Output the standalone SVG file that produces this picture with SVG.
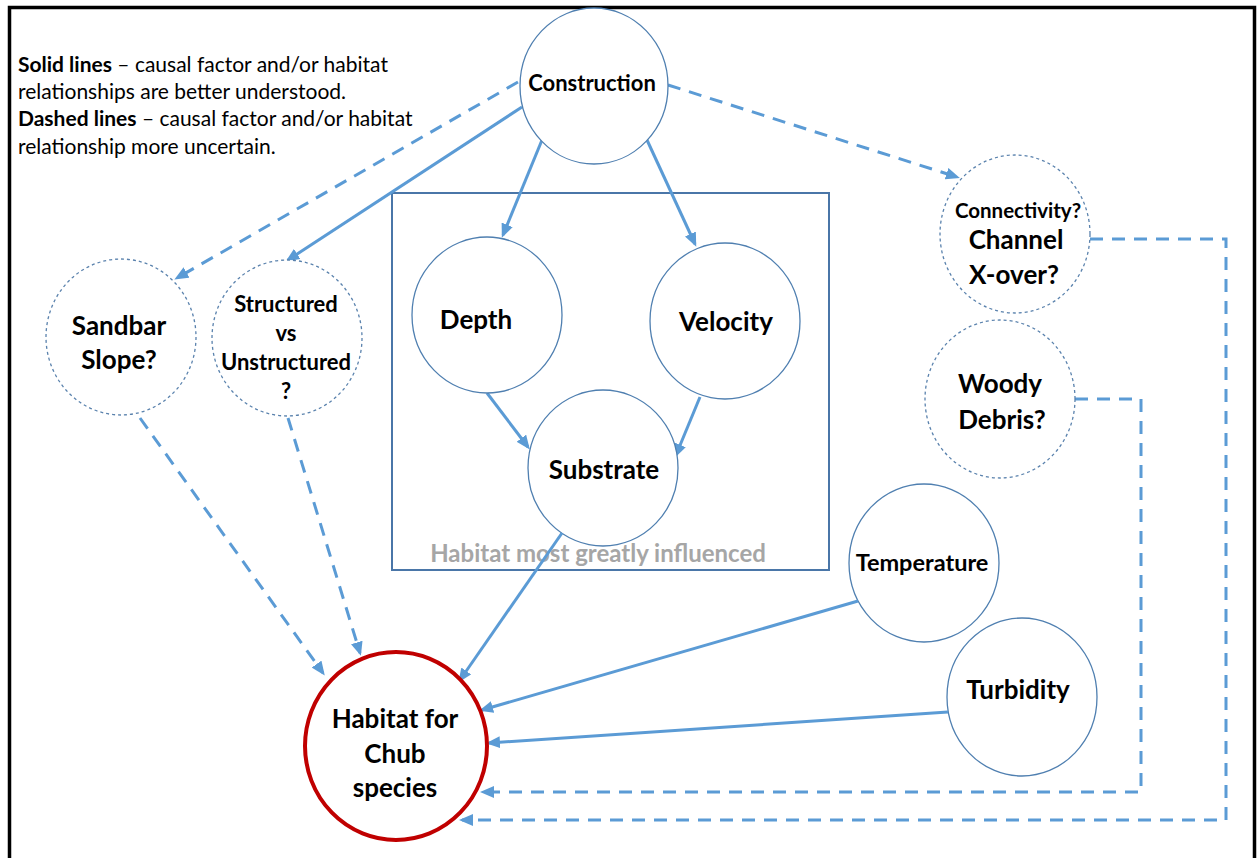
<svg xmlns="http://www.w3.org/2000/svg" width="1258" height="858" viewBox="0 0 1258 858">
<style>
.node{fill:#fff;stroke:#4f7fb0;stroke-width:1.3}
.dnode{fill:#fff;stroke:#5a82ad;stroke-width:1.3;stroke-dasharray:3 3}
.lbl{font-family:Lato,"Liberation Sans",sans-serif;font-weight:bold;fill:#000;text-anchor:middle}
.big{font-size:26px}
.leg{font-family:Lato,"Liberation Sans",sans-serif;font-size:21px;fill:#000}
.solid{fill:none;stroke:#5b9bd5;stroke-width:3;marker-end:url(#ah)}
.dash{fill:none;stroke:#5b9bd5;stroke-width:3;stroke-dasharray:13 9;marker-end:url(#ah)}
</style>
<defs>
<marker id="ah" markerUnits="userSpaceOnUse" markerWidth="14" markerHeight="12" refX="11" refY="6" orient="auto">
<path d="M0,0 L14,6 L0,12 z" fill="#5b9bd5"/>
</marker>
</defs>
<rect x="0" y="0" width="1258" height="858" fill="#fff"/>
<rect x="9.5" y="7.5" width="1245" height="870" fill="none" stroke="#000" stroke-width="3.5"/>

<g id="legend">
<text class="leg" x="18" y="72"><tspan font-weight="bold">Solid lines</tspan> – causal factor and/or habitat</text>
<text class="leg" x="18" y="99">relationships are better understood.</text>
<text class="leg" x="18" y="126"><tspan font-weight="bold">Dashed lines</tspan> – causal factor and/or habitat</text>
<text class="leg" x="18" y="154">relationship more uncertain.</text>
</g>

<g id="habitat-box">
<rect x="392" y="193" width="437" height="377" fill="none" stroke="#4a76a8" stroke-width="2"/>
<text x="598" y="562" font-family="Lato,'Liberation Sans',sans-serif" font-weight="bold" font-size="24" fill="#a6a6a6" text-anchor="middle">Habitat most greatly influenced</text>
</g>

<g id="connectors">
<path class="solid" d="M542,140 L503,235"/>
<path class="solid" d="M647,140 L695,244"/>
<path class="solid" d="M487,393 L528,447"/>
<path class="solid" d="M700,397 L676,455"/>
<path class="solid" d="M522,107 L288,260"/>
<path class="dash" d="M518,82 L177,278"/>
<path class="dash" d="M668,85 L957,177"/>
<path class="dash" d="M140,418 L323,673"/>
<path class="dash" d="M288,418 L360,653"/>
<path class="dash" d="M1090,239 L1226,239 L1226,820 L462,820"/>
<path class="dash" d="M1075,399 L1141,399 L1141,792 L483,792"/>
</g>

<g id="construction">
<ellipse class="node" cx="594" cy="86" rx="74" ry="78"/>
<text class="lbl" x="592" y="91" font-size="22">Construction</text>
</g>
<g id="depth">
<ellipse class="node" cx="487" cy="315" rx="75" ry="78"/>
<text class="lbl big" x="476" y="329">Depth</text>
</g>
<g id="velocity">
<ellipse class="node" cx="725" cy="321" rx="75" ry="78"/>
<text class="lbl big" x="726" y="331">Velocity</text>
</g>
<g id="substrate">
<ellipse class="node" cx="603" cy="468" rx="75" ry="78"/>
<text class="lbl big" x="604" y="479">Substrate</text>
</g>
<g id="sandbar">
<ellipse class="dnode" cx="121" cy="337" rx="75" ry="78"/>
<text class="lbl big" x="119" y="335">Sandbar</text>
<text class="lbl big" x="119" y="369">Slope?</text>
</g>
<g id="structured">
<ellipse class="dnode" cx="287" cy="338" rx="75" ry="78"/>
<text class="lbl" x="286" y="312" font-size="22">Structured</text>
<text class="lbl" x="286" y="341" font-size="22">vs</text>
<text class="lbl" x="286" y="370" font-size="22">Unstructured</text>
<text class="lbl" x="286" y="399" font-size="22">?</text>
</g>
<g id="connectivity">
<ellipse class="dnode" cx="1015" cy="234" rx="75" ry="79"/>
<text class="lbl" x="1018" y="218" font-size="20.5">Connectivity?</text>
<text class="lbl big" x="1016" y="249">Channel</text>
<text class="lbl big" x="1014" y="284">X-over?</text>
</g>
<g id="woody">
<ellipse class="dnode" cx="1000" cy="399" rx="75" ry="79"/>
<text class="lbl big" x="1000" y="393">Woody</text>
<text class="lbl big" x="1002" y="429">Debris?</text>
</g>
<g id="temperature">
<ellipse class="node" cx="924" cy="563" rx="75" ry="79"/>
<text class="lbl" x="922" y="571" font-size="23.5">Temperature</text>
</g>
<g id="turbidity">
<ellipse class="node" cx="1022" cy="697" rx="75" ry="79"/>
<text class="lbl big" x="1018" y="699">Turbidity</text>
</g>
<g id="connectors-2">
<path class="solid" d="M562,533 L460,680"/>
<path class="solid" d="M858,601 L482,710"/>
<path class="solid" d="M948,712 L489,743"/>
</g>
<g id="habitat-chub">
<ellipse cx="396" cy="746" rx="91" ry="94" fill="#fff" stroke="#c00000" stroke-width="4"/>
<text class="lbl big" x="395" y="728">Habitat for</text>
<text class="lbl big" x="395" y="763">Chub</text>
<text class="lbl big" x="395" y="797">species</text>
</g>
</svg>
